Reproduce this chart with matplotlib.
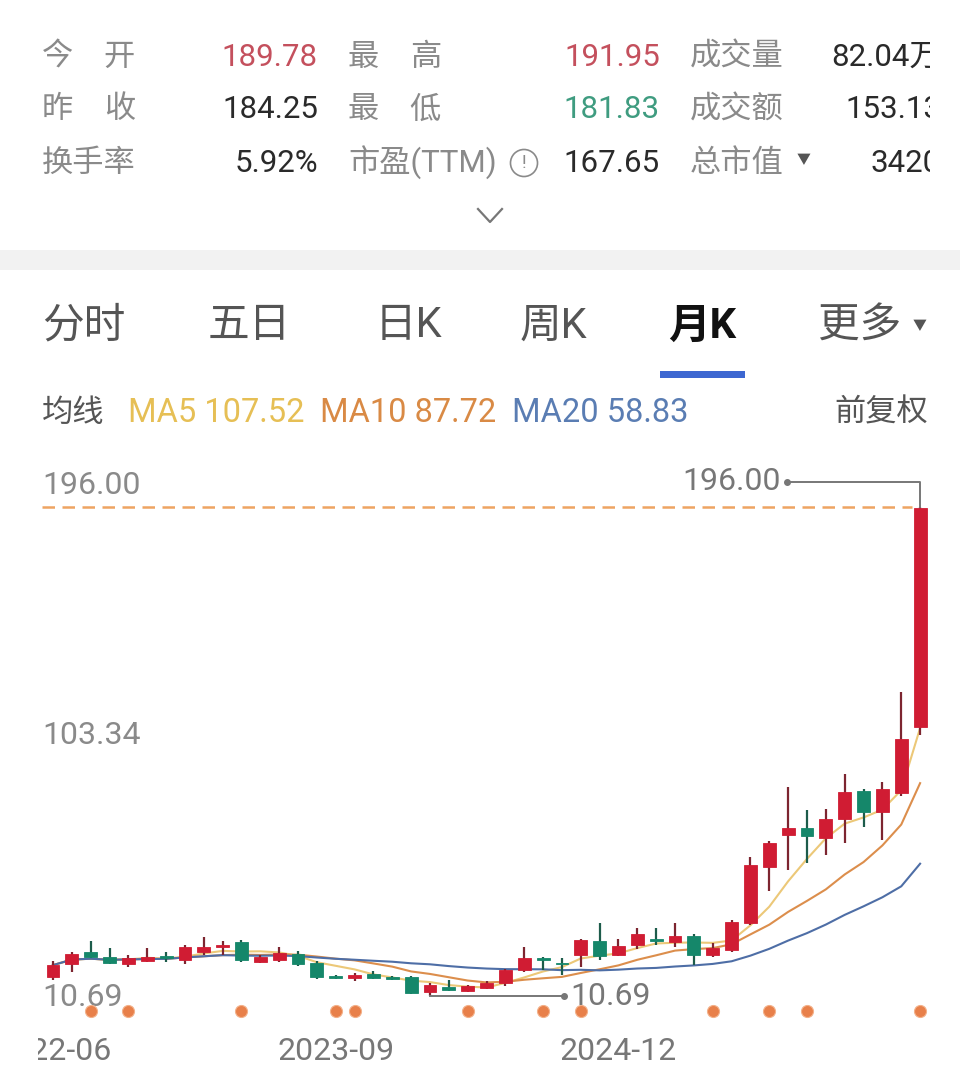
import matplotlib
matplotlib.use("Agg")
from matplotlib import pyplot as plt
from matplotlib.lines import Line2D
from matplotlib.patches import Rectangle
import matplotlib.transforms as mtransforms
import pandas as pd

# monthly candles, 2022-06 .. 2026-04
opens = [17.9, 22.8, 27.3, 25.5, 22.8, 23.9, 25.8, 24.3, 27.3, 29.2,
         31.1, 23.6, 24.3, 26.6, 23.2, 18.3, 17.5, 19.0, 17.9, 17.9,
         12.2, 14.1, 12.6, 13.7, 15.6, 20.5, 25.1, 23.2, 26.2, 31.5,
         26.2, 30.0, 32.3, 31.1, 33.4, 26.2, 28.1, 38.3, 59.6, 71.7,
         74.3, 70.5, 77.8, 88.4, 80.4, 87.6, 112.6]
highs = [23.9, 27.3, 31.5, 28.9, 26.2, 28.9, 27.3, 30.0, 33.0, 31.5,
         31.9, 26.2, 29.2, 27.7, 23.9, 18.7, 19.4, 20.1, 18.3, 18.3,
         15.6, 16.7, 14.9, 16.3, 21.0, 29.2, 25.5, 25.1, 32.3, 38.3,
         32.3, 36.4, 36.4, 38.3, 34.2, 30.8, 39.5, 63.4, 69.4, 89.9,
         81.2, 81.5, 94.8, 89.1, 91.8, 125.9, 196.0]
lows = [16.7, 19.8, 25.1, 22.8, 21.7, 23.6, 23.6, 22.8, 26.2, 26.2,
        23.6, 23.2, 23.6, 22.0, 17.1, 17.1, 16.3, 17.1, 16.7, 11.4,
        10.69, 12.6, 12.2, 13.3, 14.5, 19.8, 20.5, 18.7, 21.7, 24.3,
        25.8, 28.5, 30.0, 29.2, 22.4, 25.5, 27.3, 37.6, 50.5, 58.4,
        61.1, 64.1, 68.7, 74.7, 69.8, 86.5, 109.6]
closes = [22.4, 26.6, 25.5, 23.2, 25.1, 25.5, 25.1, 29.2, 29.2, 30.0,
          24.3, 25.5, 27.0, 22.8, 17.9, 17.5, 18.7, 17.5, 17.1, 11.8,
          14.8, 13.0, 14.5, 15.6, 20.5, 25.1, 24.3, 22.8, 31.9, 25.8,
          29.6, 34.2, 31.5, 33.4, 26.2, 28.9, 38.7, 60.3, 68.7, 74.3,
          71.3, 77.8, 88.0, 80.4, 89.1, 108.1, 195.6]

# months carrying an event marker (orange dots under the candles)
event_idx = [2, 4, 10, 15, 16, 22, 26, 28, 35, 38, 40, 46]
date_labels = ["2022-06", "2023-09", "2024-12"]
date_idx = [0, 15, 30]

max_price = 196.00
mid_price = 103.34
min_price = 10.69

header_rows = [
    [("今  开", "189.78", "r"), ("最  高", "191.95", "r"), ("成交量", "82.04万", "k")],
    [("昨  收", "184.25", "k"), ("最  低", "181.83", "g"), ("成交额", "153.13", "k")],
    [("换手率", "5.92%", "k"), ("市盈(TTM)", "167.65", "k"), ("总市值", "3420", "k")],
]
tabs = ["分时", "五日", "日K", "周K", "月K", "更多"]
tab_x = [42, 208, 375, 520, 668, 818]
ma_labels = [("MA5 107.52", "#e6bf55"), ("MA10 87.72", "#d98a45"), ("MA20 58.83", "#5a7db3")]
ma_periods = [5, 10, 20]

RED = "#d01c33"
GREEN = "#15876a"
GREY = "#8a8a8a"

plt.rcParams['font.family'] = ['Roboto', 'Noto Sans CJK SC', 'DejaVu Sans']

W, H = 960, 1086
fig = plt.figure(figsize=(W / 100, H / 100), dpi=100)
fig.patch.set_facecolor("white")


def fx(x):
    return x / W


def fy(y):
    return 1 - y / H


# header block
val_colors = {"r": "#c4505d", "g": "#3f9c80", "k": "#2a2a2a"}
label_x = [42, 348, 690]
value_right = [318, 660, 941]
row_y = [57, 110, 163]
for r, row in enumerate(header_rows):
    for c, (lab, val, col) in enumerate(row):
        parts = lab.split("  ")
        fig.text(fx(label_x[c]), fy(row_y[r]), parts[0], fontsize=22.5, color=GREY,
                 va="center", ha="left")
        if len(parts) == 2:
            fig.text(fx(label_x[c] + 93), fy(row_y[r]), parts[1], fontsize=22.5,
                     color=GREY, va="center", ha="right")
        fig.text(fx(value_right[c]), fy(row_y[r]), val, fontsize=22.5,
                 color=val_colors[col], va="center", ha="right")
fig.text(fx(804), fy(160), "▼", fontsize=10, color="#555555", ha="center", va="center")
# the info icon next to 市盈(TTM)
fig.text(fx(524), fy(163), "!", fontsize=13, color=GREY, ha="center", va="center",
         bbox=dict(boxstyle="circle,pad=0.25", fc="none", ec=GREY, lw=1.2))
# white mask so the right column is cut off like the screenshot
fig.add_artist(Rectangle((fx(930), fy(190)), fx(40), 190 / H, transform=fig.transFigure,
                         fc="white", ec="none", zorder=5))
fig.add_artist(Line2D([fx(478), fx(490), fx(502)], [fy(209), fy(222), fy(209)],
                      transform=fig.transFigure, color="#777777", lw=1.6))

# grey separator band
fig.add_artist(Rectangle((0, fy(270)), 1, 20 / H, transform=fig.transFigure,
                         fc="#f2f2f2", ec="none"))

# tabs
for t, x in zip(tabs, tab_x):
    sel = t == "月K"
    fig.text(fx(x), fy(326), t, fontsize=30, color="#111111" if sel else "#555555",
             fontweight="bold" if sel else "normal", va="center", ha="left")
fig.text(fx(920), fy(326), "▼", fontsize=10, color="#555555", ha="center", va="center")
fig.add_artist(Rectangle((fx(660), fy(378)), fx(85), 7 / H, transform=fig.transFigure,
                         fc="#3d67d1", ec="none"))

# MA legend row
fig.text(fx(42), fy(413), "均线", fontsize=22.5, color="#555555", va="center")
ma_x = [128, 320, 512]
for (lab, col), x in zip(ma_labels, ma_x):
    fig.text(fx(x), fy(413), lab, fontsize=23.5, color=col, va="center")
fig.text(fx(928), fy(413), "前复权", fontsize=22.5, color="#555555", va="center", ha="right")

# candle chart
AX_L, AX_R, AX_T, AX_B = 38, 930, 470, 1078
X0_PX, STEP_PX = 53, 18.85
REF_Y, PX_PER_UNIT = 507, 2.639

ax = fig.add_axes([fx(AX_L), fy(AX_B), (AX_R - AX_L) / W, (AX_B - AX_T) / H])
ax.set_xlim(-(X0_PX - AX_L) / STEP_PX, (AX_R - X0_PX) / STEP_PX)
ax.set_ylim(max_price - (AX_B - REF_Y) / PX_PER_UNIT, max_price + (REF_Y - AX_T) / PX_PER_UNIT)
ax.axis("off")

n = len(closes)
xs = list(range(n))
ma_colors = ["#ecc878", "#dc8e4c", "#4e6ea6"]
close_s = pd.Series(closes)
for p, col in zip(ma_periods, ma_colors):
    ma = close_s.rolling(p, min_periods=1).mean()
    ax.plot(xs, ma, color=col, lw=1.5, zorder=2)

for i in xs:
    up = closes[i] >= opens[i]
    body = RED if up else GREEN
    wick = "#7d2530" if up else "#1d5c4b"
    ax.vlines(i, lows[i], highs[i], color=wick, lw=1.6, zorder=3)
    lo = min(opens[i], closes[i])
    hgt = max(abs(closes[i] - opens[i]), 0.5)
    ax.bar(i, hgt, bottom=lo, width=0.68, color=body, edgecolor=body, lw=0.6, zorder=4)

ax.axhline(max_price, xmin=0.005, xmax=0.98, color="#eea462", lw=1.8,
           dashes=(5, 3), zorder=1)

bt = mtransforms.blended_transform_factory(ax.transAxes, ax.transData)
ax.annotate(f"{max_price:.2f}", xy=(0.005, max_price), xycoords=bt, xytext=(0, 5),
            textcoords="offset points", fontsize=23, color=GREY, va="bottom")
ax.annotate(f"{mid_price:.2f}", xy=(0.005, mid_price), xycoords=bt, xytext=(0, 1),
            textcoords="offset points", fontsize=23, color=GREY, va="bottom")
ax.annotate(f"{min_price:.2f}", xy=(0.005, min_price), xycoords=bt, xytext=(0, -1),
            textcoords="offset points", fontsize=23, color=GREY, va="center")

# high annotation
hi_i = highs.index(max(highs))
hi_y = max_price + 25 / PX_PER_UNIT
ax.plot([hi_i, hi_i, hi_i - 7.05], [highs[hi_i], hi_y, hi_y], color="#777777", lw=1.4, zorder=5)
ax.plot([hi_i - 7.05], [hi_y], "o", ms=4, color="#777777", zorder=5)
ax.text(hi_i - 7.4, hi_y, f"{max(highs):.2f}", fontsize=23, color="#777777",
        ha="right", va="center")

# low annotation
lo_i = lows.index(min(lows))
ax.plot([lo_i, lo_i + 7.1], [min(lows), min(lows)], color="#777777", lw=1.4, zorder=5)
ax.plot([lo_i + 7.1], [min(lows)], "o", ms=4, color="#777777", zorder=5)
ax.text(lo_i + 7.45, min(lows), f"{min(lows):.2f}", fontsize=23, color="#777777",
        ha="left", va="center")

# event dots
dot_y = max_price - (1011 - REF_Y) / PX_PER_UNIT
ax.scatter(event_idx, [dot_y] * len(event_idx), s=75, color="#e8804a", zorder=5,
           edgecolor="#f3b18a", lw=0.8)

# date labels
date_y = max_price - (1052 - REF_Y) / PX_PER_UNIT
for i, lab in zip(date_idx, date_labels):
    ax.text(i, date_y, lab, fontsize=23, color="#777777", ha="center", va="center",
            clip_on=True)

fig.savefig("out.png", dpi=100)
